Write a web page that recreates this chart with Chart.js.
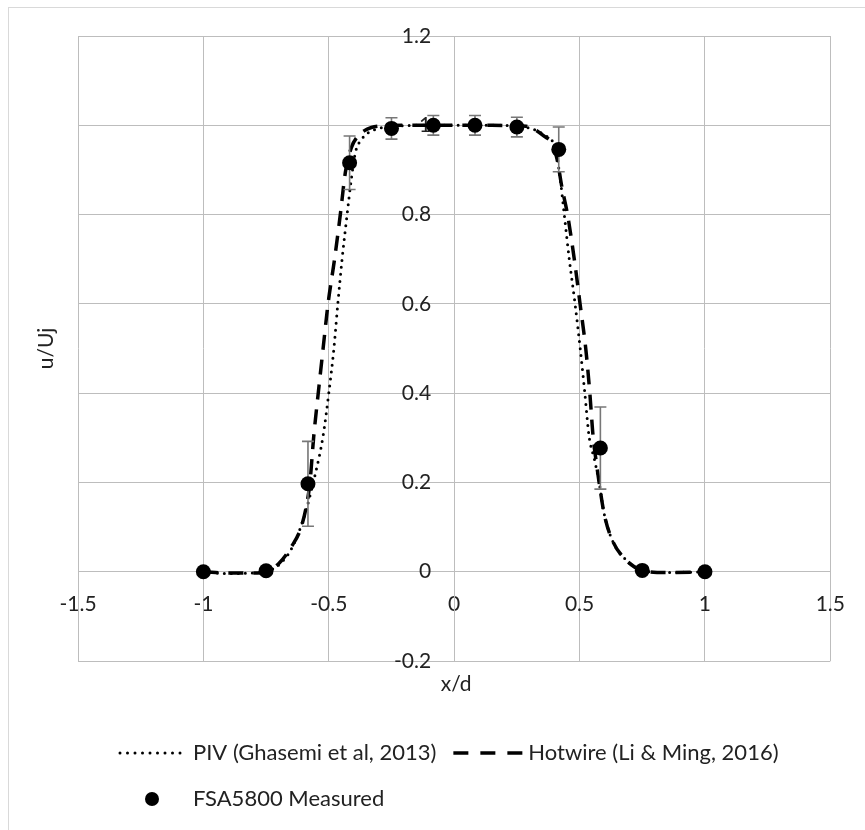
<!DOCTYPE html>
<html>
<head>
<meta charset="utf-8">
<script src="https://cdn.jsdelivr.net/npm/chart.js@4.4.1/dist/chart.umd.min.js"></script>
<style>
  html, body { margin: 0; padding: 0; background: #ffffff; }
  #wrap { width: 865px; height: 830px; position: relative; }
</style>
</head>
<body>
<div id="wrap"><canvas id="c" width="865" height="830"></canvas></div>
<script>
// ---------------- data ----------------
const xTickValues = [-1.5, -1, -0.5, 0, 0.5, 1, 1.5];
const xTickLabels = ['-1.5', '-1', '-0.5', '0', '0.5', '1', '1.5'];
const yTickValues = [-0.2, 0, 0.2, 0.4, 0.6, 0.8, 1, 1.2];
const yTickLabels = ['-0.2', '0', '0.2', '0.4', '0.6', '0.8', '1', '1.2'];

const seriesNames = ['PIV (Ghasemi et al, 2013)', 'Hotwire (Li & Ming, 2016)', 'FSA5800 Measured'];

const pivX = [-1.0, -0.9, -0.8, -0.75, -0.7, -0.65, -0.6, -0.553, -0.523, -0.5, -0.48, -0.464, -0.447, -0.427, -0.41, -0.394, -0.37, -0.341, -0.3, -0.25, -0.15, 0, 0.15, 0.25, 0.3, 0.333, 0.366, 0.393, 0.41, 0.425, 0.439, 0.459, 0.482, 0.503, 0.521, 0.538, 0.56, 0.578, 0.598, 0.631, 0.684, 0.75, 0.85, 1.0];
const pivY = [0, -0.004, -0.003, 0, 0.015, 0.05, 0.12, 0.221, 0.303, 0.4, 0.498, 0.6, 0.7, 0.8, 0.88, 0.939, 0.968, 0.984, 0.993, 0.997, 1.0, 1.0, 1.0, 0.998, 0.994, 0.987, 0.976, 0.963, 0.93, 0.87, 0.8, 0.7, 0.6, 0.498, 0.4, 0.303, 0.25, 0.2, 0.13, 0.07, 0.027, 0.003, -0.002, 0];

const hwX = [-1.0, -0.9, -0.8, -0.75, -0.7, -0.65, -0.61, -0.585, -0.575, -0.56, -0.542, -0.523, -0.503, -0.477, -0.454, -0.434, -0.41, -0.385, -0.361, -0.33, -0.28, -0.15, 0, 0.15, 0.25, 0.287, 0.32, 0.36, 0.39, 0.41, 0.43, 0.452, 0.479, 0.502, 0.525, 0.541, 0.554, 0.568, 0.578, 0.598, 0.631, 0.684, 0.75, 0.85, 1.0];
const hwY = [0, -0.003, -0.003, 0, 0.018, 0.055, 0.1, 0.16, 0.2, 0.303, 0.4, 0.498, 0.6, 0.7, 0.8, 0.894, 0.95, 0.975, 0.987, 0.995, 0.999, 1.0, 1.0, 1.0, 0.999, 0.998, 0.991, 0.975, 0.96, 0.925, 0.86, 0.8, 0.7, 0.6, 0.498, 0.4, 0.303, 0.24, 0.2, 0.13, 0.07, 0.027, 0.003, -0.002, 0];

const measX = [-1, -0.75, -0.583, -0.417, -0.25, -0.083, 0.083, 0.25, 0.417, 0.583, 0.75, 1];
const measY = [0, 0.002, 0.197, 0.916, 0.993, 1.0, 1.0, 0.996, 0.946, 0.277, 0.003, 0];
const measErr = [0, 0, 0.095, 0.06, 0.024, 0.022, 0.022, 0.022, 0.05, 0.092, 0, 0];

// ---------------- styles ----------------
const FONT = 'Lato, "Liberation Sans", sans-serif';
const TEXT = '#222222';
const GRID = '#bdbdbd';

const toXY = (xs, ys) => xs.map((x, i) => ({ x: x, y: ys[i] }));

const errorBars = {
  id: 'errorBars',
  beforeDatasetDraw(chart, args) {
    if (args.index !== 2) return;
    const ctx = chart.ctx, xs = chart.scales.x, ys = chart.scales.y;
    ctx.save();
    ctx.strokeStyle = '#777777';
    ctx.lineWidth = 1.6;
    measX.forEach((x, i) => {
      const e = measErr[i];
      if (!e) return;
      const px = xs.getPixelForValue(x);
      const pt = ys.getPixelForValue(measY[i] + e);
      const pb = ys.getPixelForValue(measY[i] - e);
      ctx.beginPath();
      ctx.moveTo(px, pt); ctx.lineTo(px, pb);
      ctx.moveTo(px - 6, pt); ctx.lineTo(px + 6, pt);
      ctx.moveTo(px - 6, pb); ctx.lineTo(px + 6, pb);
      ctx.stroke();
    });
    ctx.restore();
  }
};

const decorations = {
  id: 'decorations',
  beforeDraw(chart) {
    const ctx = chart.ctx;
    ctx.save();
    ctx.fillStyle = '#ffffff';
    ctx.fillRect(0, 0, chart.width, chart.height);
    ctx.strokeStyle = '#d9d9d9';
    ctx.lineWidth = 1;
    ctx.strokeRect(8.5, 7.5, chart.width + 20, chart.height + 20);
    ctx.restore();
  },
  afterDraw(chart) {
    const ctx = chart.ctx;
    const area = chart.chartArea;
    ctx.save();
    ctx.fillStyle = TEXT;
    ctx.font = '21px ' + FONT;
    ctx.textBaseline = 'middle';
    // axis titles
    ctx.textAlign = 'center';
    ctx.fillText('x/d', (area.left + area.right) / 2 + 2, 684);
    ctx.save();
    ctx.translate(46, (area.top + area.bottom) / 2);
    ctx.rotate(-Math.PI / 2);
    ctx.fillText('u/Uj', 0, 0);
    ctx.restore();

    // legend
    ctx.font = '22px ' + FONT;
    ctx.textAlign = 'left';
    const r1 = 753, r2 = 799;
    ctx.strokeStyle = '#000000';
    // dotted sample
    ctx.lineWidth = 3;
    ctx.lineCap = 'round';
    ctx.setLineDash([0, 7.5]);
    ctx.beginPath(); ctx.moveTo(120, r1); ctx.lineTo(182, r1); ctx.stroke();
    ctx.fillText(seriesNames[0], 193, r1);
    const w0 = ctx.measureText(seriesNames[0]).width;
    // dashed sample
    const dx = 193 + w0 + 17;
    ctx.lineCap = 'butt';
    ctx.lineWidth = 3.5;
    ctx.setLineDash([15, 12]);
    ctx.beginPath(); ctx.moveTo(dx, r1); ctx.lineTo(dx + 69, r1); ctx.stroke();
    ctx.setLineDash([]);
    ctx.fillText(seriesNames[1], dx + 75, r1);
    // marker sample
    ctx.fillStyle = '#000000';
    ctx.beginPath(); ctx.arc(152, r2, 7, 0, Math.PI * 2); ctx.fill();
    ctx.fillStyle = TEXT;
    ctx.fillText(seriesNames[2], 193, r2);
    ctx.restore();
  }
};

function build() {
  Chart.defaults.font.family = FONT;
  Chart.defaults.font.size = 21;
  Chart.defaults.color = TEXT;

  new Chart(document.getElementById('c'), {
    type: 'scatter',
    data: {
      datasets: [
        {
          label: seriesNames[0],
          data: toXY(pivX, pivY),
          showLine: true,
          borderColor: '#000000',
          borderWidth: 3,
          borderDash: [0, 7],
          borderCapStyle: 'round',
          cubicInterpolationMode: 'monotone',
          pointRadius: 0,
          order: 2
        },
        {
          label: seriesNames[1],
          data: toXY(hwX, hwY),
          showLine: true,
          borderColor: '#000000',
          borderWidth: 3.5,
          borderDash: [15, 10],
          borderCapStyle: 'butt',
          cubicInterpolationMode: 'monotone',
          pointRadius: 0,
          order: 1
        },
        {
          label: seriesNames[2],
          data: toXY(measX, measY),
          showLine: false,
          pointRadius: 7.5,
          pointBackgroundColor: '#000000',
          pointBorderColor: '#000000',
          pointBorderWidth: 0,
          order: 0
        }
      ]
    },
    options: {
      responsive: false,
      animation: false,
      devicePixelRatio: 1,
      layout: { padding: { left: 78, right: 31, top: 36, bottom: 169 } },
      plugins: {
        legend: { display: false },
        tooltip: { enabled: false }
      },
      scales: {
        x: {
          type: 'linear',
          position: { y: 0 },
          min: -1.5, max: 1.5,
          afterBuildTicks: (s) => { s.ticks = xTickValues.map(v => ({ value: v })); },
          ticks: {
            autoSkip: false,
            maxRotation: 0,
            padding: 20,
            color: TEXT,
            font: { size: 21, family: FONT },
            callback: (v, i) => xTickLabels[i]
          },
          grid: { color: GRID, lineWidth: 1, drawTicks: false },
          border: { color: GRID, width: 1 }
        },
        y: {
          type: 'linear',
          position: 'center',
          min: -0.2, max: 1.2,
          afterBuildTicks: (s) => { s.ticks = yTickValues.map(v => ({ value: v })); },
          ticks: {
            autoSkip: false,
            padding: 23,
            color: TEXT,
            font: { size: 21, family: FONT },
            callback: (v, i) => yTickLabels[i]
          },
          grid: { color: GRID, lineWidth: 1, drawTicks: false },
          border: { color: GRID, width: 1 }
        }
      }
    },
    plugins: [decorations, errorBars]
  });
}

if (document.fonts && document.fonts.load) {
  document.fonts.load('21px Lato').then(build, build);
} else {
  build();
}
</script>
</body>
</html>
